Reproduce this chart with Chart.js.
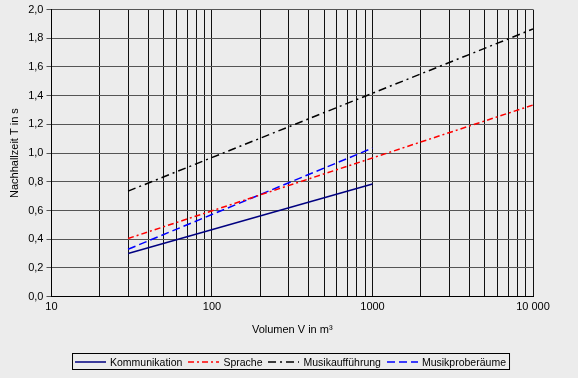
<!DOCTYPE html>
<html>
<head>
<meta charset="utf-8">
<script src="https://cdn.jsdelivr.net/npm/chart.js@4/dist/chart.umd.min.js"></script>
<style>
  html, body { margin: 0; padding: 0; background: #ececec; }
  #wrap { position: relative; width: 578px; height: 378px; }
  #legend {
    position: absolute; top: 353px; left: 291px; transform: translateX(-50%);
    height: 17px; box-sizing: border-box; border: 1px solid #000;
    display: flex; align-items: center; padding: 0 3px 0 2px; white-space: nowrap;
    font: 10.5px "Liberation Sans", Arial, sans-serif; color: #000;
  }
  #legend .item { display: flex; align-items: center; margin-right: 6px; }
  #legend .item:last-child { margin-right: 0; }
  #legend svg { margin-right: 4px; }
</style>
</head>
<body>
<div id="wrap">
  <canvas id="chart" width="578" height="378"></canvas>
  <div id="legend"></div>
</div>
<script>
// Sollwerte der Nachhallzeit über dem Raumvolumen (log. Achse)
const kommV = [30, 1000];
const kommT = [0.30, 0.785];
const spracheV = [30, 10000];
const spracheT = [0.405, 1.335];
const musikV = [30, 10000];
const musikT = [0.735, 1.865];
const probeV = [30, 1000];
const probeT = [0.33, 1.035];

const seriesLabels = ['Kommunikation', 'Sprache', 'Musikaufführung', 'Musikproberäume'];
const xMajorTicks = [10, 100, 1000, 10000];
const xMajorLabels = ['10', '100', '1000', '10 000'];
const yTicks = [0, 0.2, 0.4, 0.6, 0.8, 1.0, 1.2, 1.4, 1.6, 1.8, 2.0];

const FONT = '"Liberation Sans", Arial, sans-serif';

function points(xs, ys) {
  return xs.map((x, i) => ({ x, y: ys[i] }));
}

const canvasBg = {
  id: 'canvasBg',
  beforeDraw(chart) {
    const ctx = chart.ctx;
    ctx.save();
    ctx.fillStyle = '#ececec';
    ctx.fillRect(0, 0, chart.width, chart.height);
    ctx.restore();
  },
};

// framed legend row under the chart, built from the datasets
function renderLegend(chart) {
  const host = document.getElementById('legend');
  host.innerHTML = '';
  const ns = 'http://www.w3.org/2000/svg';
  chart.data.datasets.forEach((ds) => {
    const item = document.createElement('span');
    item.className = 'item';
    const svg = document.createElementNS(ns, 'svg');
    svg.setAttribute('width', '31');
    svg.setAttribute('height', '6');
    const line = document.createElementNS(ns, 'line');
    line.setAttribute('x1', '0');
    line.setAttribute('x2', '31');
    line.setAttribute('y1', '3');
    line.setAttribute('y2', '3');
    line.setAttribute('stroke', ds.borderColor);
    line.setAttribute('stroke-width', '1.5');
    if (ds.borderDash.length) line.setAttribute('stroke-dasharray', ds.borderDash.join(' '));
    svg.appendChild(line);
    item.appendChild(svg);
    item.appendChild(document.createTextNode(ds.label));
    host.appendChild(item);
  });
}

const lineBase = { pointRadius: 0, fill: false, tension: 0, borderWidth: 1.5 };

const chart = new Chart(document.getElementById('chart').getContext('2d'), {
  type: 'line',
  data: {
    datasets: [
      { ...lineBase, label: seriesLabels[0], data: points(kommV, kommT), borderColor: '#000080', borderDash: [] },
      { ...lineBase, label: seriesLabels[1], data: points(spracheV, spracheT), borderColor: '#ff0000', borderDash: [6, 3, 2, 3] },
      { ...lineBase, label: seriesLabels[2], data: points(musikV, musikT), borderColor: '#000000', borderDash: [8, 4, 2, 4] },
      { ...lineBase, label: seriesLabels[3], data: points(probeV, probeT), borderColor: '#0000ff', borderDash: [8, 4] },
    ],
  },
  options: {
    responsive: false,
    animation: false,
    // bottom room is for the HTML legend
    layout: { padding: { left: 8, right: 8, top: 4, bottom: 33 } },
    scales: {
      x: {
        type: 'logarithmic',
        min: 10,
        max: 10000,
        afterBuildTicks(scale) {
          // keep every 1..9 x 10^k grid line of the log paper
          const ticks = [];
          for (let d = 10; d < 10000; d *= 10) {
            for (let n = 1; n < 10; n++) ticks.push({ value: n * d });
          }
          ticks.push({ value: 10000 });
          scale.ticks = ticks;
        },
        afterFit(scale) {
          // extra room right of the plot, as in the original
          scale.paddingRight = 45;
        },
        ticks: {
          autoSkip: false,
          maxRotation: 0,
          color: '#000',
          font: { family: FONT, size: 11 },
          padding: 4,
          callback: (v) => {
            const i = xMajorTicks.indexOf(v);
            return i >= 0 ? xMajorLabels[i] : '';
          },
        },
        grid: { color: '#111', lineWidth: 1, drawTicks: false },
        border: { color: '#000' },
        title: {
          display: true,
          text: 'Volumen V in m³',
          color: '#000',
          font: { family: FONT, size: 11 },
          padding: { top: 6, bottom: 8 },
        },
      },
      y: {
        min: 0,
        max: 2,
        afterBuildTicks(scale) {
          scale.ticks = yTicks.map((value) => ({ value }));
        },
        ticks: {
          color: '#000',
          font: { family: FONT, size: 11 },
          padding: 3,
          callback: (v) => Number(v).toFixed(1).replace('.', ','),
        },
        grid: { color: '#555', lineWidth: 1, tickLength: 5 },
        border: { color: '#000' },
        title: {
          display: true,
          text: 'Nachhallzeit T in s',
          color: '#000',
          font: { family: FONT, size: 11 },
          padding: { top: 0, bottom: 4 },
        },
      },
    },
    plugins: {
      legend: { display: false },
      tooltip: { enabled: false },
    },
  },
  plugins: [canvasBg],
});

renderLegend(chart);
</script>
</body>
</html>
